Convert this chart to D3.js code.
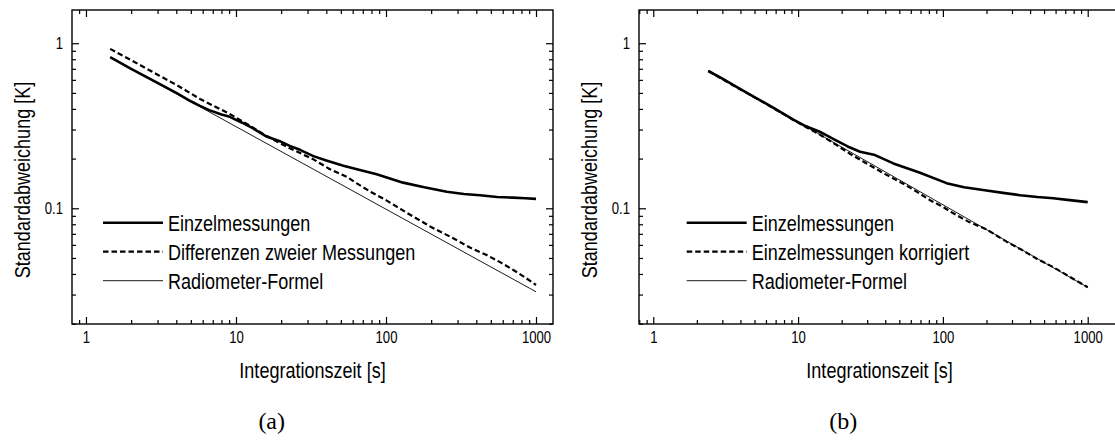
<!DOCTYPE html>
<html>
<head>
<meta charset="utf-8">
<script src="https://cdn.jsdelivr.net/npm/d3@7"></script>
<style>
  body { margin: 0; background: #fff; }
  svg { display: block; }
  .sans { font-family: "Liberation Sans", Arial, sans-serif; }
  .serif { font-family: "Liberation Serif", "DejaVu Serif", serif; }
</style>
</head>
<body>
<svg id="fig" width="1115" height="442"></svg>
<script>
// (a) values
const tauA1 = [1.45, 2, 3, 4, 5, 5.75, 6.7, 8, 9.1, 11, 13, 16, 19.6, 23, 26.7, 32.8, 40, 52, 65, 86.7, 110, 130, 180, 254, 330, 423, 550, 700, 850, 1000]
const sigA1 = [0.823, 0.70, 0.575, 0.50, 0.445, 0.417, 0.392, 0.37, 0.358, 0.33, 0.305, 0.272, 0.255, 0.238, 0.226, 0.207, 0.195, 0.181, 0.172, 0.161, 0.150, 0.143, 0.134, 0.126, 0.122, 0.120, 0.117, 0.116, 0.115, 0.114]
const tauA2 = [1.45, 2, 3, 4, 5.75, 7, 9, 12, 16, 22, 32.8, 42, 54.8, 63.5, 80, 100, 125, 152, 200, 281, 360, 469, 580, 706, 850, 1000]
const sigA2 = [0.924, 0.79, 0.645, 0.56, 0.46, 0.42, 0.375, 0.322, 0.274, 0.235, 0.198, 0.173, 0.155, 0.142, 0.125, 0.112, 0.099, 0.089, 0.077, 0.0658, 0.058, 0.0521, 0.047, 0.0423, 0.038, 0.0343]
const tauA3 = [1.45, 1000]
const sigA3 = [0.821, 0.0312]

// (b)
const tauB1 = [2.4, 3, 4, 5, 6.5, 8, 9.27, 11, 14.1, 18, 22, 26.8, 34, 45.5, 69.5, 106, 140, 200, 260, 341, 450, 578, 750, 1000]
const sigB1 = [0.679, 0.61, 0.527, 0.472, 0.415, 0.372, 0.345, 0.318, 0.291, 0.26, 0.237, 0.220, 0.21, 0.187, 0.164, 0.142, 0.134, 0.128, 0.124, 0.12, 0.117, 0.115, 0.112, 0.109]
const tauB2 = [2.4, 3, 4, 5, 6.5, 8, 9.27, 11, 14.1, 18, 22.8, 30, 40, 53.3, 65, 81.5, 100, 118, 150, 200, 275, 350, 445, 578, 750, 1000]
const sigB2 = [0.679, 0.606, 0.525, 0.47, 0.412, 0.371, 0.343, 0.315, 0.28, 0.245, 0.214, 0.186, 0.161, 0.141, 0.127, 0.112, 0.102, 0.0932, 0.083, 0.0745, 0.0628, 0.056, 0.0495, 0.044, 0.0385, 0.0332]
const tauB3 = [2.4, 1000]
const sigB3 = [0.679, 0.0332]

const xMajor = [1, 10, 100, 1000]
const yMajor = [0.1, 1]
const xTitle = 'Integrationszeit [s]'
const yTitle = 'Standardabweichung [K]'

const styles = [
  { width: 2.6, dash: null },
  { width: 2.2, dash: '5.5,3' },
  { width: 0.9, dash: null }
]

const NARROW = 0.82 // squeeze Liberation Sans into a narrow face

const svg = d3.select('#fig')

const isMajor = v => Math.abs(Math.log10(v) - Math.round(Math.log10(v))) < 1e-9

// narrow text anchored at (x, y), optional rotation
function narrowText (parent, x, y, txt, size, anchor = 'start', rot = 0) {
  return parent.append('text')
    .attr('class', 'sans')
    .attr('transform', `translate(${x},${y}) rotate(${rot}) scale(${NARROW},1)`)
    .attr('text-anchor', anchor)
    .attr('font-size', size)
    .attr('fill', '#000')
    .text(txt)
}

function drawPanel ({ left, right, xDomain, series, labels, legendX, caption, captionX, titleX, rightTicks = true }) {
  const top = 10, bottom = 324
  const x = d3.scaleLog().domain(xDomain).range([left, right])
  const y = d3.scaleLog().domain([0.0199, 1.59]).range([bottom, top])
  const g = svg.append('g')

  const xMinor = x.ticks().filter(v => !isMajor(v))
  const yMinor = y.ticks().filter(v => !isMajor(v))
  const fmt = d => String(d)

  const axes = [
    [d3.axisBottom, bottom, xMinor, -4, false, true],
    [d3.axisBottom, bottom, xMajor, -7, true, true],
    [d3.axisTop, top, xMinor, -4, false, true],
    [d3.axisTop, top, xMajor, -7, false, true],
    [d3.axisLeft, left, yMinor, -4, false, false],
    [d3.axisLeft, left, yMajor, -7, true, false]
  ]
  if (rightTicks) {
    axes.push([d3.axisRight, right, yMinor, -4, false, false])
    axes.push([d3.axisRight, right, yMajor, -7, false, false])
  }
  axes.forEach(([fn, pos, vals, size, lab, horiz]) => {
    const ax = fn(horiz ? x : y).tickValues(vals).tickSize(size)
      .tickPadding(lab ? (horiz ? 8 : 9 / NARROW) : 0)
      .tickFormat(lab ? fmt : () => '')
    const a = g.append('g')
      .attr('transform', horiz ? `translate(0,${pos})` : `translate(${pos},0)`)
      .call(ax)
    a.select('.domain').remove()
    a.selectAll('line').attr('stroke', '#000').attr('stroke-width', 1.2)
    a.selectAll('text')
      .attr('class', 'sans')
      .attr('font-size', 16)
      .attr('fill', '#000')
      .attr('transform', `scale(${NARROW},1)`)
  })

  g.append('rect')
    .attr('x', left).attr('y', top)
    .attr('width', right - left).attr('height', bottom - top)
    .attr('fill', 'none').attr('stroke', '#000').attr('stroke-width', 1.4)

  const line = d3.line().x(d => x(d[0])).y(d => y(d[1]))
  series.forEach(([taus, sigs], i) => {
    g.append('path')
      .datum(taus.map((t, k) => [t, sigs[k]]))
      .attr('d', line)
      .attr('fill', 'none')
      .attr('stroke', '#000')
      .attr('stroke-width', styles[i].width)
      .attr('stroke-dasharray', styles[i].dash)
      .attr('stroke-linejoin', 'round')
  })

  // legend
  const rows = [222.7, 251.7, 280.7]
  labels.forEach((txt, i) => {
    g.append('line')
      .attr('x1', legendX).attr('x2', legendX + 60)
      .attr('y1', rows[i]).attr('y2', rows[i])
      .attr('stroke', '#000')
      .attr('stroke-width', styles[i].width)
      .attr('stroke-dasharray', styles[i].dash)
    narrowText(g, legendX + 65, rows[i] + 7.8, txt, 22)
  })

  narrowText(g, titleX, 377.5, xTitle, 22, 'middle')
  narrowText(g, left - 42, 180, yTitle, 22, 'middle', -90)

  g.append('text')
    .attr('class', 'serif')
    .attr('x', captionX).attr('y', 429)
    .attr('text-anchor', 'middle')
    .attr('font-size', 24)
    .text(caption)
}

drawPanel({
  left: 72, right: 553, xDomain: [0.807, 1298],
  series: [[tauA1, sigA1], [tauA2, sigA2], [tauA3, sigA3]],
  labels: ['Einzelmessungen', 'Differenzen zweier Messungen', 'Radiometer-Formel'],
  legendX: 103, caption: '(a)', captionX: 271.7, titleX: 312.5
})

// right frame edge lies just outside the page
drawPanel({
  left: 639, right: 1120, xDomain: [0.797, 1671],
  series: [[tauB1, sigB1], [tauB2, sigB2], [tauB3, sigB3]],
  labels: ['Einzelmessungen', 'Einzelmessungen korrigiert', 'Radiometer-Formel'],
  legendX: 686.7, caption: '(b)', captionX: 843.3, titleX: 879.5, rightTicks: false
})
</script>
</body>
</html>
